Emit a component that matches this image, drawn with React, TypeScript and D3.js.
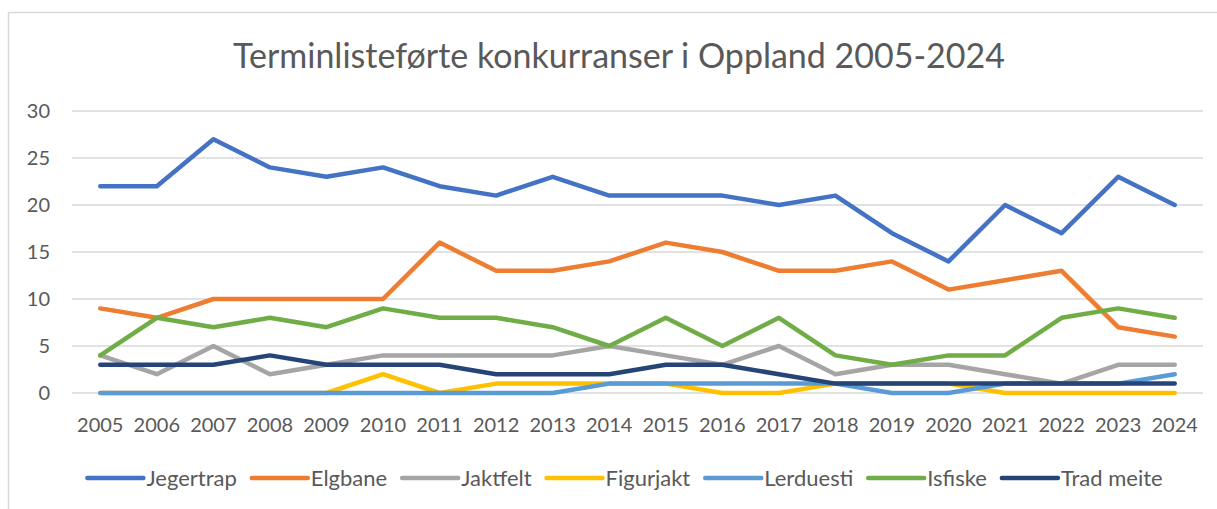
import React, { useEffect, useRef } from "react";
import * as d3 from "d3";

// years on the x axis
const years = ["2005", "2006", "2007", "2008", "2009", "2010", "2011", "2012", "2013", "2014",
  "2015", "2016", "2017", "2018", "2019", "2020", "2021", "2022", "2023", "2024"];

const jegertrap = [22, 22, 27, 24, 23, 24, 22, 21, 23, 21, 21, 21, 20, 21, 17, 14, 20, 17, 23, 20];
const elgbane = [9, 8, 10, 10, 10, 10, 16, 13, 13, 14, 16, 15, 13, 13, 14, 11, 12, 13, 7, 6];
const jaktfelt = [4, 2, 5, 2, 3, 4, 4, 4, 4, 5, 4, 3, 5, 2, 3, 3, 2, 1, 3, 3];
const figurjakt = [0, 0, 0, 0, 0, 2, 0, 1, 1, 1, 1, 0, 0, 1, 1, 1, 0, 0, 0, 0];
const lerduesti = [0, 0, 0, 0, 0, 0, 0, 0, 0, 1, 1, 1, 1, 1, 0, 0, 1, 1, 1, 2];
const isfiske = [4, 8, 7, 8, 7, 9, 8, 8, 7, 5, 8, 5, 8, 4, 3, 4, 4, 8, 9, 8];
const tradMeite = [3, 3, 3, 4, 3, 3, 3, 2, 2, 2, 3, 3, 2, 1, 1, 1, 1, 1, 1, 1];

const yTicks = [0, 5, 10, 15, 20, 25, 30];

const seriesNames = ["Jegertrap", "Elgbane", "Jaktfelt", "Figurjakt", "Lerduesti", "Isfiske", "Trad meite"];
const seriesColors = ["#4472C4", "#ED7D31", "#A5A5A5", "#FFC000", "#5B9BD5", "#70AD47", "#264478"];

const title = "Terminlisteførte konkurranser i Oppland 2005-2024";

const App = () => {
  const svgRef = useRef<SVGSVGElement>(null);

  useEffect(() => {
    const series = [jegertrap, elgbane, jaktfelt, figurjakt, lerduesti, isfiske, tradMeite];
    const width = 1217;
    const height = 509;
    const margin = { top: 111, right: 14, bottom: 116, left: 72 };
    const font = "Lato, 'Open Sans', sans-serif";
    const textColor = "#595959";

    const svg = d3.select(svgRef.current);
    svg.selectAll("*").remove();

    // chart border
    svg.append("rect")
      .attr("x", 8.5)
      .attr("y", 12.5)
      .attr("width", width + 10)
      .attr("height", height + 10)
      .attr("fill", "white")
      .attr("stroke", "#d9d9d9")
      .attr("stroke-width", 1.5);

    const x = d3.scaleBand()
      .domain(years)
      .range([margin.left, width - margin.right]);

    const y = d3.scaleLinear()
      .domain([0, 30])
      .range([height - margin.bottom, margin.top]);

    // gridlines
    svg.append("g")
      .selectAll("line")
      .data(yTicks)
      .join("line")
      .attr("x1", margin.left)
      .attr("x2", width - margin.right)
      .attr("y1", d => y(d))
      .attr("y2", d => y(d))
      .attr("stroke", "#d9d9d9")
      .attr("stroke-width", 1.5);

    // y labels
    svg.append("g")
      .selectAll("text")
      .data(yTicks)
      .join("text")
      .attr("x", 50)
      .attr("y", d => y(d))
      .attr("dy", "0.35em")
      .attr("text-anchor", "end")
      .attr("fill", textColor)
      .style("font-family", font)
      .style("font-size", "20px")
      .text(d => d);

    // x labels
    svg.append("g")
      .selectAll("text")
      .data(years)
      .join("text")
      .attr("x", d => x(d)! + x.bandwidth() / 2)
      .attr("y", 432)
      .attr("text-anchor", "middle")
      .attr("fill", textColor)
      .style("font-family", font)
      .style("font-size", "20px")
      .text(d => d);

    const line = d3.line<number>()
      .x((d, i) => x(years[i])! + x.bandwidth() / 2)
      .y(d => y(d));

    series.forEach((s, i) => {
      svg.append("path")
        .datum(s)
        .attr("fill", "none")
        .attr("stroke", seriesColors[i])
        .attr("stroke-width", 4.5)
        .attr("stroke-linejoin", "round")
        .attr("stroke-linecap", "round")
        .attr("d", line);
    });

    // title
    svg.append("text")
      .attr("x", 619)
      .attr("y", 68)
      .attr("text-anchor", "middle")
      .attr("fill", textColor)
      .style("font-family", font)
      .style("font-size", "34px")
      .text(title);

    // legend, laid out from measured text widths and centred
    const legend = svg.append("g");
    const lineLen = 56;
    const gap = 15;
    const items = seriesNames.map((name, i) => {
      const g = legend.append("g");
      g.append("line")
        .attr("x1", 0)
        .attr("x2", lineLen)
        .attr("y1", 0)
        .attr("y2", 0)
        .attr("stroke", seriesColors[i])
        .attr("stroke-width", 4.5)
        .attr("stroke-linecap", "round");
      const t = g.append("text")
        .attr("x", lineLen + 3)
        .attr("y", 8)
        .attr("fill", textColor)
        .style("font-family", font)
        .style("font-size", "22px")
        .text(name);
      const w = (t.node() as SVGTextElement).getComputedTextLength();
      return { g, w: lineLen + 3 + w };
    });
    const total = d3.sum(items, d => d.w) + gap * (items.length - 1);
    let cx = 625 - total / 2;
    items.forEach(it => {
      it.g.attr("transform", `translate(${cx},478)`);
      cx += it.w + gap;
    });
  }, []);

  return (
    <svg ref={svgRef} width={1217} height={509}
      style={{ position: "absolute", left: 0, top: 0 }}></svg>
  );
};

export default App;
